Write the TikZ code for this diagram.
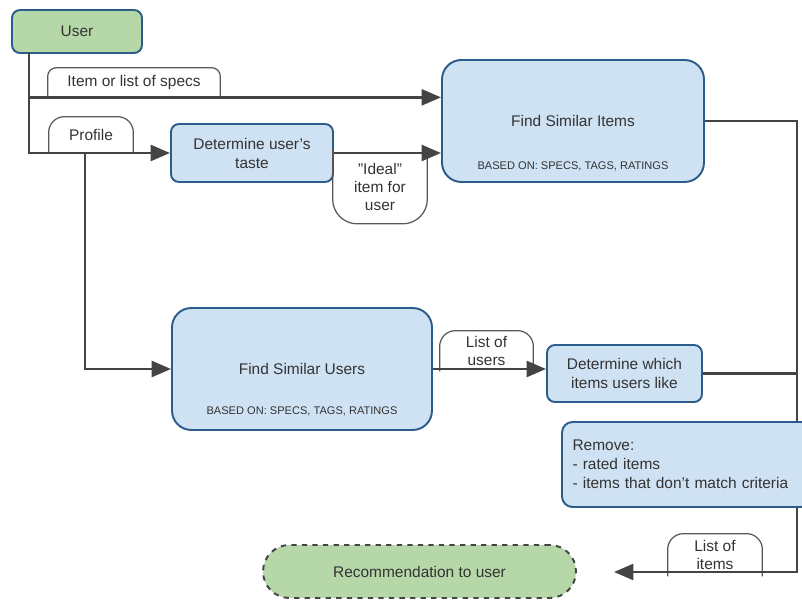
\documentclass[tikz,border=0pt]{standalone}
\usepackage{fontspec}
\setmainfont{Liberation Sans}
\usetikzlibrary{arrows.meta}

\definecolor{boxblue}{HTML}{CFE2F3}
\definecolor{boxgreen}{HTML}{B6D7A8}
\definecolor{edgeblue}{HTML}{2B5C8A}
\definecolor{linegray}{HTML}{444444}

\begin{document}
\begin{tikzpicture}[x=0.02cm, y=-0.02cm,
  box/.style = {draw=edgeblue, line width=1.1pt, fill=boxblue, rounded corners=4.5pt,
    text=black!80, font=\fontsize{8.8}{10.8}\selectfont, align=center, inner sep=0pt},
  bigbox/.style = {box, rounded corners=11pt},
  sub/.style = {text=black!80, font=\fontsize{6.3}{7}\selectfont, inner sep=0pt},
  lbl/.style = {text=black!80, font=\fontsize{8.8}{10.2}\selectfont, align=center, inner sep=0pt},
  tab/.style = {draw=linegray!90, line width=0.7pt},
  line/.style = {draw=linegray, line width=1.6pt},
  flow/.style = {line, -{Triangle[length=11pt, width=9pt]}}]

\clip (0,0) rectangle (802,601);

% boxes
\node[box, fill=boxgreen, minimum width=2.6cm, minimum height=0.86cm] (user) at (77,31.5) {User};
\node[box, minimum width=3.24cm, minimum height=1.16cm] (taste) at (252,153) {Determine user's\\taste};
\node[bigbox, minimum width=5.24cm, minimum height=2.44cm] (simitems) at (573,121) {Find Similar Items};
\node[sub, anchor=base] (itemsbasis) at (573,170) {BASED ON: SPECS, TAGS, RATINGS};
\node[bigbox, minimum width=5.2cm, minimum height=2.44cm] (simusers) at (302,369) {Find Similar Users};
\node[sub, anchor=base] (usersbasis) at (302,415) {BASED ON: SPECS, TAGS, RATINGS};
\node[box, minimum width=3.1cm, minimum height=1.14cm] (which) at (624.5,373.5) {Determine which\\items users like};
\node[box, fill=boxgreen, draw=linegray, dashed, rounded corners=15pt, minimum width=6.26cm,
  minimum height=1.06cm] (reco) at (419.5,571.5) {Recommendation to user};

% labels on the lines
\node[lbl, minimum width=3.44cm, minimum height=0.58cm] (specs) at (134,82.5) {Item or list of specs};
\node[lbl, minimum width=1.68cm, minimum height=0.7cm] (profile) at (91,134.5) {Profile};
\node[lbl, minimum width=1.88cm, minimum height=1.46cm] (ideal) at (380,187) {"Ideal"\\item for\\user};
\node[lbl, minimum width=1.86cm, minimum height=0.8cm] (userlist) at (486.5,351) {List of\\users};
\node[lbl, minimum width=1.88cm, minimum height=0.84cm] (itemlist) at (715,555) {List of\\items};

\draw[tab, rounded corners=5pt] (specs.south west) -- (specs.north west) -- (specs.north east) -- (specs.south east);
\draw[tab, rounded corners=9pt] (profile.south west) -- (profile.north west) -- (profile.north east) -- (profile.south east);
\draw[tab, rounded corners=14pt] (ideal.north west) -- (ideal.south west) -- (ideal.south east) -- (ideal.north east);
\draw[tab, rounded corners=9pt] (userlist.south west) -- (userlist.north west) -- (userlist.north east) -- (userlist.south east);
\draw[tab, rounded corners=9pt] (itemlist.south west) -- (itemlist.north west) -- (itemlist.north east) -- (itemlist.south east);

% connectors
\coordinate (stem) at (29,53);
\coordinate (split) at (85,152);
\coordinate (corner) at (797,572);
\draw[flow] (stem) |- (specs.south -| simitems.west);
\draw[flow] (stem) |- (taste.west);
\draw[flow] (split) |- (simusers.west);
\draw[flow] (taste.east) -- (taste.east -| simitems.west);
\draw[flow] (simusers.east) -- (simusers.east -| which.west);
\draw[line] (which.east) -- (which.east -| corner);
\draw[flow] (simitems.east) -| (corner) -- ([xshift=0.74cm]reco.east |- corner);

% filter step, drawn over the rail
\node[box, rounded corners=6pt, align=left, minimum width=5cm, minimum height=1.7cm,
  text width=4.58cm] (remove) at (687,464.5) {Remove:\\- rated items\\- items that don't match criteria};
\end{tikzpicture}
\end{document}
